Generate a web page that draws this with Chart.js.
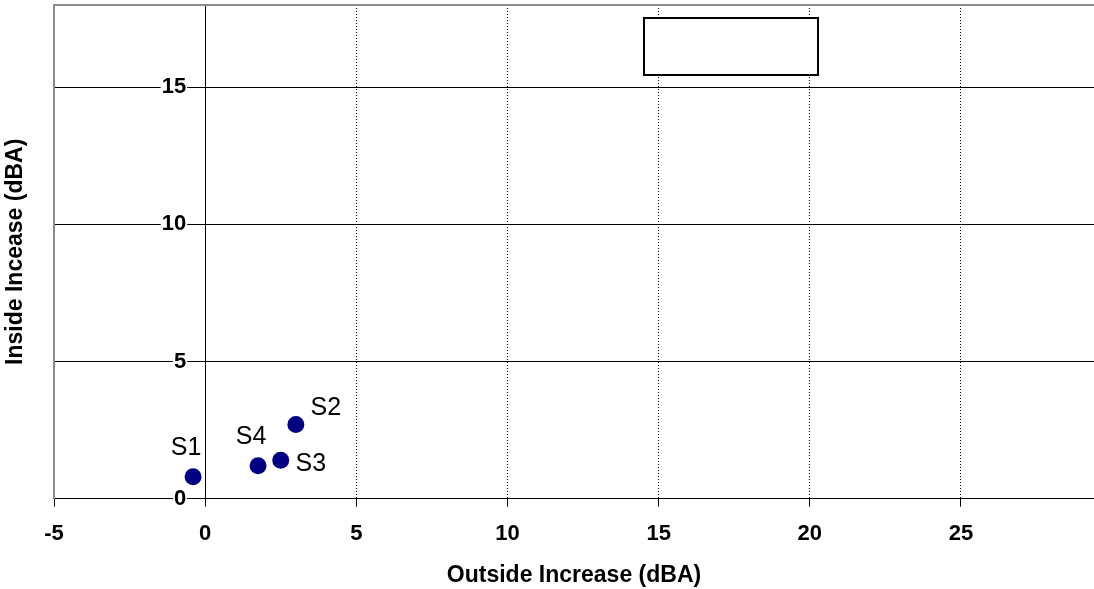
<!DOCTYPE html>
<html lang="en">
<head>
<meta charset="UTF-8">
<title>Inside vs Outside Increase</title>
<script src="https://cdn.jsdelivr.net/npm/chart.js"></script>
<style>
  html, body { margin: 0; padding: 0; background: #fff; overflow: hidden; }
  #wrap { width: 1094px; height: 589px; }
</style>
</head>
<body>
<div id="wrap"><canvas id="scatterChart"></canvas></div>
<script>
const siteLabels = ['S1', 'S2', 'S3', 'S4'];
const outsideIncrease = [-0.4, 3.0, 2.5, 1.75];
const insideIncrease = [0.8, 2.7, 1.4, 1.2];
const xTicks = [-5, 0, 5, 10, 15, 20, 25];
const yTicks = [0, 5, 10, 15];

// where each site label sits relative to its point (px)
const labelOffsets = [[-7, -29], [30, -16], [30, 4], [-7, -29]];

const fontFamily = 'Arial, "Liberation Sans", sans-serif';
const tickFont = { family: fontFamily, size: 22, weight: 'bold' };
const titleFont = { family: fontFamily, size: 23, weight: 'bold', lineHeight: 1 };
const frameGray = '#8c8c8c';

// y tick labels sit just left of the x=0 axis, on a white patch over the grid
const yAxisLabels = {
    id: 'yAxisLabels',
    beforeDatasetsDraw(chart) {
        const ctx = chart.ctx;
        const xs = chart.scales.x, ys = chart.scales.y;
        const right = xs.getPixelForValue(0) - 19;
        ctx.save();
        ctx.font = 'bold 22px ' + fontFamily;
        ctx.textAlign = 'right';
        ctx.textBaseline = 'middle';
        yTicks.forEach(v => {
            const py = ys.getPixelForValue(v);
            const txt = String(v);
            const w = ctx.measureText(txt).width;
            ctx.fillStyle = '#fff';
            ctx.fillRect(right - w - 1, py - 4, w + 2, 8);
            ctx.fillStyle = '#000';
            ctx.fillText(txt, right, py);
        });
        ctx.restore();
    }
};

const pointLabels = {
    id: 'pointLabels',
    afterDatasetsDraw(chart) {
        const ctx = chart.ctx;
        const meta = chart.getDatasetMeta(0);
        ctx.save();
        ctx.font = 'normal 25px ' + fontFamily;
        ctx.fillStyle = '#000';
        ctx.textAlign = 'center';
        ctx.textBaseline = 'middle';
        meta.data.forEach((pt, i) => {
            ctx.fillText(siteLabels[i], pt.x + labelOffsets[i][0], pt.y + labelOffsets[i][1]);
        });
        ctx.restore();
    }
};

// empty legend frame in the upper part of the plot
const legendFrame = {
    id: 'legendFrame',
    afterDraw(chart) {
        const ctx = chart.ctx;
        ctx.save();
        ctx.fillStyle = '#fff';
        ctx.strokeStyle = '#000';
        ctx.lineWidth = 2;
        ctx.fillRect(644, 18, 174, 57);
        ctx.strokeRect(644, 18, 174, 57);
        ctx.restore();
    }
};

const points = outsideIncrease.map((x, i) => ({ x: x, y: insideIncrease[i] }));

new Chart(document.getElementById('scatterChart'), {
    type: 'scatter',
    data: {
        datasets: [{
            label: 'Sites',
            data: points,
            backgroundColor: '#000080',
            borderWidth: 0,
            pointRadius: 8.5,
            pointHoverRadius: 8.5
        }]
    },
    options: {
        responsive: true,
        maintainAspectRatio: false,
        animation: false,
        layout: { autoPadding: false, padding: { top: 5, left: 0, right: 0, bottom: 0 } },
        plugins: {
            legend: { display: false },
            tooltip: { enabled: false }
        },
        scales: {
            x: {
                type: 'linear',
                position: 'bottom',
                min: -5,
                max: 29.4,
                afterBuildTicks: s => { s.ticks = xTicks.map(v => ({ value: v })); },
                ticks: { font: tickFont, color: '#000', padding: 14 },
                grid: {
                    color: ctx => (ctx.tick && ctx.tick.value === -5) ? 'rgba(0,0,0,0)' : '#000',
                    lineWidth: 1,
                    tickLength: 8,
                    tickColor: '#000',
                    tickBorderDash: []
                },
                border: { color: '#000', width: 1, dash: [1, 2] },
                title: {
                    display: true,
                    text: 'Outside Increase (dBA)',
                    font: titleFont,
                    color: '#000',
                    padding: { top: 3, bottom: 2 }
                }
            },
            y: {
                type: 'linear',
                position: { x: 0 },
                min: 0,
                max: 18,
                afterBuildTicks: s => { s.ticks = yTicks.map(v => ({ value: v })); },
                ticks: { display: false },
                grid: { color: '#000', lineWidth: 1, drawTicks: false },
                border: { color: '#000', width: 1 }
            },
            yLeft: {
                type: 'linear',
                position: 'left',
                ticks: { display: false },
                grid: { display: false, drawTicks: false },
                border: { color: frameGray, width: 2 },
                title: {
                    display: true,
                    text: 'Inside Incease (dBA)',
                    font: titleFont,
                    color: '#000',
                    padding: { top: 4, bottom: 27 }
                }
            },
            xTop: {
                type: 'linear',
                position: 'top',
                ticks: { display: false },
                grid: { display: false, drawTicks: false },
                border: { color: frameGray, width: 2 }
            }
        }
    },
    plugins: [yAxisLabels, pointLabels, legendFrame]
});
</script>
</body>
</html>
